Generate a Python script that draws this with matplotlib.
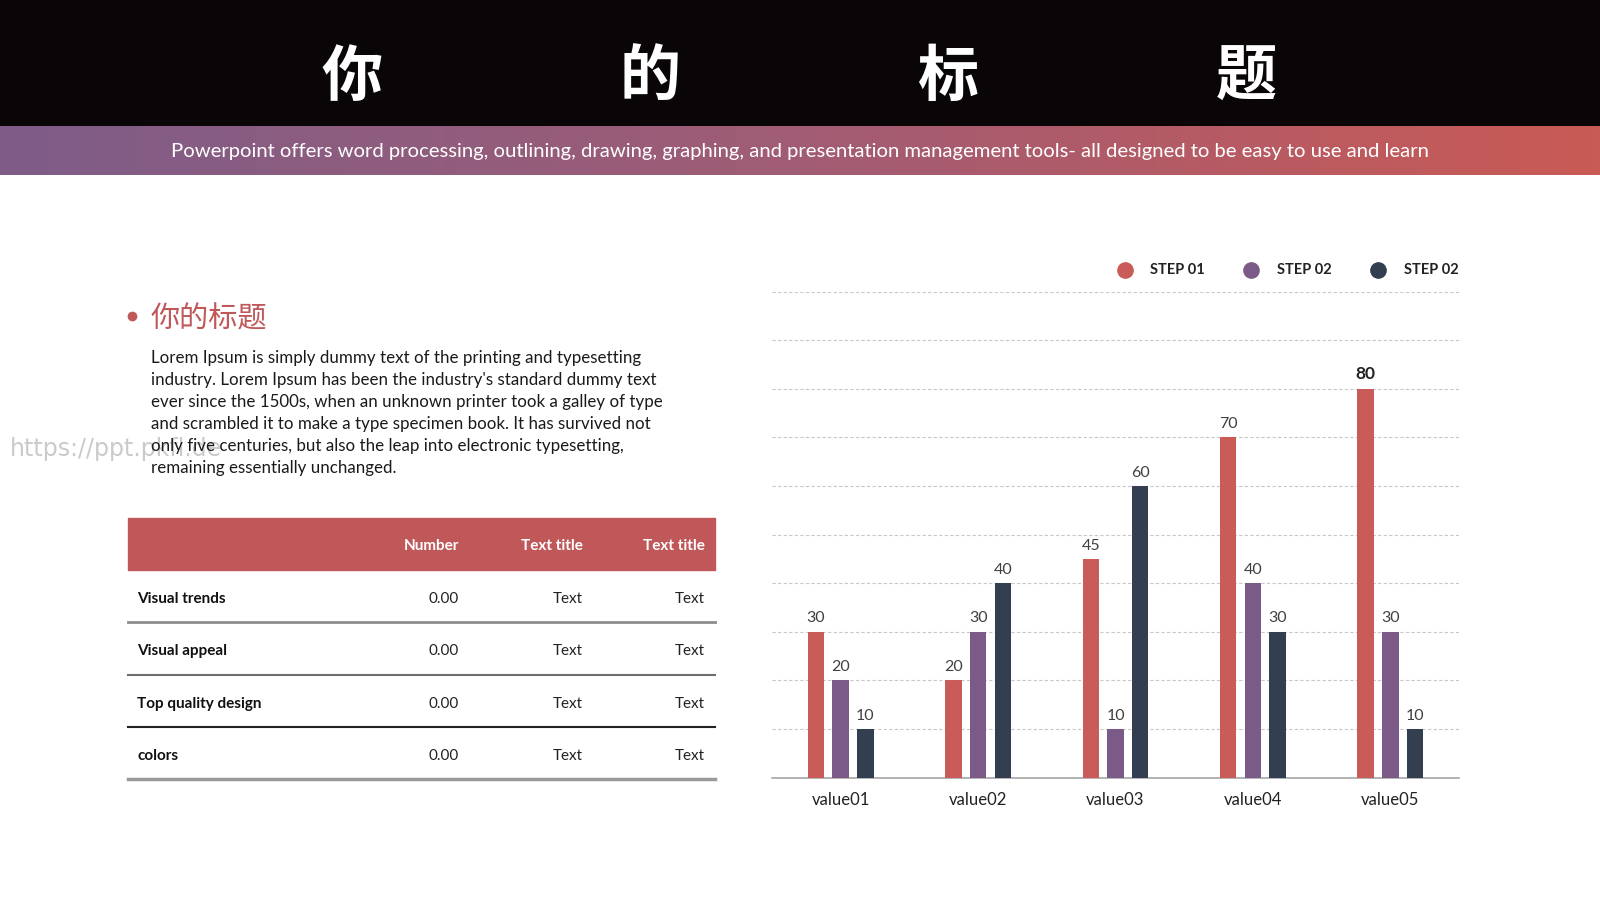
import matplotlib.pyplot as plt
import numpy as np
from matplotlib.colors import LinearSegmentedColormap

plt.rcParams['font.family'] = ['Lato', 'Noto Sans CJK SC', 'DejaVu Sans']

# ---- data ----
categories = ['value01', 'value02', 'value03', 'value04', 'value05']
step01 = [30, 20, 45, 70, 80]
step02 = [20, 30, 10, 40, 30]
step03 = [10, 40, 60, 30, 10]
series_names = ['STEP 01', 'STEP 02', 'STEP 02']
series_colors = ['#C95B58', '#7B5A87', '#333F50']

title_chars = ['你', '的', '标', '题']
subtitle = ('Powerpoint offers word processing, outlining, drawing, graphing, '
            'and presentation management tools- all designed to be easy to use and learn')
section_title = '你的标题'
paragraph = ["Lorem Ipsum is simply dummy text of the printing and typesetting",
             "industry. Lorem Ipsum has been the industry's standard dummy text",
             "ever since the 1500s, when an unknown printer took a galley of type",
             "and scrambled it to make a type specimen book. It has survived not",
             "only five centuries, but also the leap into electronic typesetting,",
             "remaining essentially unchanged."]

table_header = ['', 'Number', 'Text title', 'Text title']
table_rows = [['Visual trends', '0.00', 'Text', 'Text'],
              ['Visual appeal', '0.00', 'Text', 'Text'],
              ['Top quality design', '0.00', 'Text', 'Text'],
              ['colors', '0.00', 'Text', 'Text']]

fig = plt.figure(figsize=(16, 9), dpi=100)
fig.patch.set_facecolor('white')

# overlay in pixel coordinates for the slide decoration
bg = fig.add_axes([0, 0, 1, 1])
bg.set_xlim(0, 1600)
bg.set_ylim(900, 0)
bg.axis('off')

# black title bar
bg.add_patch(plt.Rectangle((0, 0), 1600, 126, color='#0A0608', zorder=1))
for i, ch in enumerate(title_chars):
    bg.text(352 + i * 298, 78, ch, color='white', fontsize=44, fontweight='bold',
            family=['Noto Sans CJK SC'], ha='center', va='center', zorder=3)

# gradient band
grad = LinearSegmentedColormap.from_list('band', ['#7E5C88', '#A15C74', '#C95A55'])
bg.imshow(np.linspace(0, 1, 256).reshape(1, -1), cmap=grad, aspect='auto',
          extent=[0, 1600, 175, 126], zorder=2)
bg.text(800, 151, subtitle, color='white', fontsize=14.6, ha='center', va='center', zorder=3)

# watermark (sits behind the paragraph, as in the slide)
bg.text(10, 449, 'https://ppt.pkfl.de', color='#CACACA', fontsize=17, ha='left', va='center',
        family=['DejaVu Sans'], zorder=1)

# left text block
bg.plot([132], [316], 'o', color='#C0585A', markersize=6, zorder=3)
bg.text(151, 319, section_title, color='#C0585A', fontsize=21, family=['Noto Sans CJK SC'],
        ha='left', va='center', zorder=3)
for i, line in enumerate(paragraph):
    bg.text(151, 358 + i * 22, line, color='#1A1A1A', fontsize=12.2, ha='left', va='center', zorder=3)

# table
tx0, tx1 = 127.5, 715
bg.add_patch(plt.Rectangle((tx0, 518), tx1 - tx0, 52, color='#C0585A', zorder=2))
col_right = [None, 459, 583, 705]
for j, h in enumerate(table_header):
    if h:
        bg.text(col_right[j], 546, h, color='white', fontsize=11, fontweight='bold',
                ha='right', va='center', zorder=3)
row_h = 52.3
line_colors = ['#8C8C8C', '#6E6E6E', '#222222', '#999999']
line_widths = [2, 1.5, 1.5, 2.5]
for i, row in enumerate(table_rows):
    yc = 573 + row_h * (i + 0.5)
    bg.text(137, yc, row[0], color='#111111', fontsize=11, fontweight='bold',
            ha='left', va='center', zorder=3)
    for j in range(1, 4):
        bg.text(col_right[j], yc, row[j], color='#222222', fontsize=11,
                ha='right', va='center', zorder=3)
    yl = 570 + row_h * (i + 1)
    bg.plot([tx0, tx1], [yl, yl], color=line_colors[i], lw=line_widths[i], zorder=3)

# ---- bar chart ----
ax = fig.add_axes([772 / 1600, 122.4 / 900, 687 / 1600, 486 / 900])
ax.set_facecolor('none')
x = np.arange(len(categories))
width = 0.12
offset = 0.18
all_series = [step01, step02, step03]
for k, (vals, col) in enumerate(zip(all_series, series_colors)):
    pos = x + (k - 1) * offset
    ax.bar(pos, vals, width=width, color=col, zorder=3)
    for p, v in zip(pos, vals):
        bold = v == max(step01)
        ax.text(p, v + 1.3, str(v), ha='center', va='bottom',
                fontsize=12.5 if bold else 11.5,
                fontweight='bold' if bold else 'normal',
                color='#222222' if bold else '#404040')

ax.set_xlim(-0.5, 4.5)
ax.set_ylim(0, 100)
ax.set_yticks(np.arange(10, 101, 10))
ax.yaxis.grid(True, linestyle=(0, (3, 2)), color='#C8C8C8', lw=0.8, zorder=0)
ax.tick_params(axis='y', left=False, labelleft=False)
ax.tick_params(axis='x', bottom=False, labelsize=12, labelcolor='#222222', pad=7)
ax.set_xticks(x)
ax.set_xticklabels(categories)
for s in ['top', 'right', 'left']:
    ax.spines[s].set_visible(False)
ax.spines['bottom'].set_color('#A6A6A6')
ax.spines['bottom'].set_linewidth(1.2)

# legend drawn on overlay
leg_x = [1124.5, 1251, 1377.5]
for lx, name, col in zip(leg_x, series_names, series_colors):
    bg.plot([lx], [269.5], 'o', color=col, markersize=11, zorder=3)
    bg.text(lx + 26, 269.5, name, color='#222222', fontsize=10.5, fontweight='bold',
            ha='left', va='center', zorder=3)

plt.savefig('out.png', dpi=100)
plt.close()
